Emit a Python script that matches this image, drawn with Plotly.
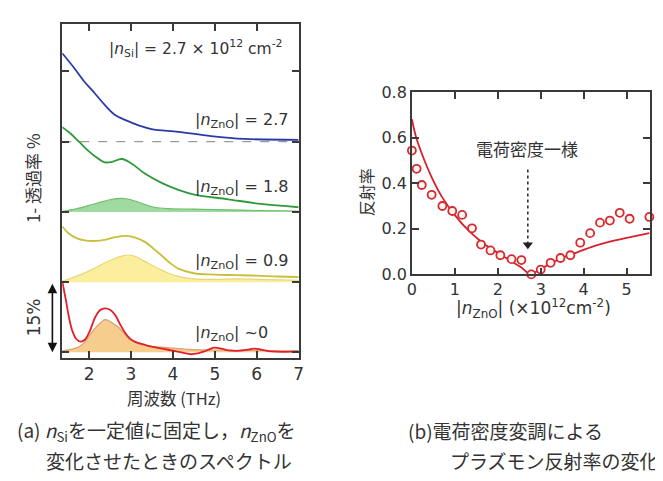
import plotly.graph_objects as go

W, H = 663, 481

# ---------------- data: panel (a) ----------------
freq_blue = [1.36, 1.64, 1.88, 2.14, 2.38, 2.62, 2.90, 3.18, 3.49, 4.13, 4.91, 5.70, 7.0]
val_blue = [63.9, 60.8, 57.9, 55.3, 52.8, 50.7, 49.5, 48.5, 47.7, 47.1, 46.2, 45.6, 45.4]

freq_green = [1.36, 1.55, 1.76, 1.95, 2.14, 2.38, 2.55, 2.78, 3.02, 3.33, 3.73, 4.13, 4.51, 5.32, 6.10, 7.0]
val_green = [48.1, 46.8, 45.0, 43.3, 41.9, 40.6, 40.7, 41.3, 40.3, 38.2, 36.2, 34.7, 33.7, 32.7, 31.7, 31.0]
freq_green_fill = [1.36, 1.6, 1.76, 2.0, 2.2, 2.5, 2.78, 3.0, 3.3, 3.56, 3.9, 4.5, 5.0, 6.0, 7.0]
val_green_fill = [30.1, 30.5, 30.8, 31.4, 31.9, 32.6, 32.9, 32.6, 31.7, 31.0, 30.7, 30.6, 30.5, 30.3, 30.2]

freq_yellow = [1.36, 1.5, 1.7, 1.9, 2.14, 2.4, 2.62, 2.9, 3.1, 3.33, 3.53, 3.73, 3.93, 4.13, 4.5, 5.0, 5.5, 6.0, 6.5, 7.0]
val_yellow = [26.9, 25.5, 24.4, 23.9, 23.8, 24.1, 24.6, 24.9, 24.5, 23.6, 22.2, 20.7, 19.1, 17.9, 16.9, 16.6, 16.5, 16.4, 16.2, 16.1]
freq_yellow_fill = [1.36, 1.6, 1.8, 2.0, 2.2, 2.4, 2.6, 2.8, 2.95, 3.1, 3.3, 3.5, 3.7, 3.9, 4.1, 4.5, 5.0, 5.5, 6.0, 6.5, 7.0]
val_yellow_fill = [15.2, 15.9, 16.6, 17.4, 18.3, 19.2, 20.0, 20.6, 20.8, 20.5, 19.6, 18.6, 17.7, 16.9, 16.3, 15.7, 15.6, 15.7, 15.6, 15.5, 15.4]

freq_red = [1.36, 1.44, 1.52, 1.6, 1.7, 1.8, 1.9, 2.02, 2.14, 2.26, 2.38, 2.5, 2.62, 2.74, 2.85, 2.97, 3.09,
            3.3, 3.49, 3.75, 3.97, 4.2, 4.44, 4.6, 4.75, 4.88, 4.99, 5.15, 5.32, 5.5, 5.63, 5.8, 5.93, 6.1,
            6.34, 6.6, 7.0]
val_red = [15.2, 11.5, 7.5, 4.6, 2.8, 2.3, 2.7, 4.6, 7.4, 9.0, 9.4, 9.1, 8.0, 6.0, 4.3, 3.0, 2.3,
           1.7, 1.2, 0.8, 0.4, 0.0, -0.4, -0.2, 0.2, 0.7, 1.0, 0.8, 0.4, 0.3, 0.4, 0.6, 0.8, 0.6,
           0.2, 0.1, 0.2]
freq_red_fill = [1.36, 1.6, 1.76, 1.9, 2.0, 2.12, 2.24, 2.38, 2.5, 2.6, 2.71, 2.83, 2.95, 3.06, 3.18, 3.4,
                 3.7, 4.0, 4.5, 5.0, 6.0, 7.0]
val_red_fill = [0.3, 0.7, 1.2, 2.2, 3.5, 4.9, 6.0, 7.0, 6.6, 6.0, 5.3, 4.1, 2.9, 2.3, 1.8, 1.4,
                1.1, 0.9, 0.6, 0.5, 0.4, 0.3]

offsets = [45, 30, 15, 0]          # baselines (%) of the stacked spectra
freq_ticks = [2, 3, 4, 5, 6, 7]
pct_ticks = [0, 15, 30, 45, 60]

# ---------------- data: panel (b) ----------------
n_meas = [0.0, 0.11, 0.23, 0.46, 0.71, 0.94, 1.17, 1.40, 1.61, 1.83, 2.06, 2.32, 2.55, 2.78,
          3.0, 3.23, 3.46, 3.69, 3.92, 4.15, 4.38, 4.61, 4.84, 5.07, 5.53]
R_meas = [0.543, 0.463, 0.392, 0.349, 0.300, 0.278, 0.261, 0.202, 0.131, 0.105, 0.084, 0.067, 0.063, 0.0,
          0.021, 0.051, 0.072, 0.084, 0.139, 0.181, 0.227, 0.236, 0.270, 0.244, 0.252]
n_theory = [0.0, 0.1, 0.25, 0.45, 0.7, 1.0, 1.31, 1.56, 1.8, 2.06, 2.34, 2.55, 2.76, 3.1, 3.49, 3.85,
            4.24, 4.63, 5.0, 5.53]
R_theory = [0.68, 0.60, 0.52, 0.43, 0.34, 0.26, 0.194, 0.152, 0.118, 0.088, 0.055, 0.03, 0.003, 0.034,
            0.072, 0.097, 0.124, 0.145, 0.16, 0.181]
arrow_n = [2.7, 2.7]
arrow_R = [0.46, 0.13]
n_ticks = [0, 1, 2, 3, 4, 5]
R_ticks = [0.0, 0.2, 0.4, 0.6, 0.8]

# ---------------- figure ----------------
JP = "Noto Sans CJK JP"
TXT = "DejaVu Sans"
DARK = "#333333"
AX = "#3a3a3a"


def px(x, y):
    return x / W, 1 - y / H


fig = go.Figure()

# baseline helper traces + fills (panel a)
fills = [
    (freq_green_fill, val_green_fill, offsets[1], "rgba(130,205,130,0.75)", "#6cbf6c"),
    (freq_yellow_fill, val_yellow_fill, offsets[2], "rgba(250,236,140,0.85)", "#e6d77a"),
    (freq_red_fill, val_red_fill, offsets[3], "rgba(246,200,130,0.9)", "#d9a070"),
]
for fx, fy, base, fc, lc in fills:
    fig.add_trace(go.Scatter(x=[fx[0], fx[-1]], y=[base, base], mode="lines",
                             line=dict(width=0, color=fc), hoverinfo="skip", showlegend=False,
                             xaxis="x", yaxis="y"))
    fig.add_trace(go.Scatter(x=fx, y=fy, mode="lines", fill="tonexty", fillcolor=fc,
                             line=dict(color=lc, width=1.2, shape="spline"), showlegend=False,
                             xaxis="x", yaxis="y"))

# dashed reference line at the blue baseline
fig.add_trace(go.Scatter(x=[freq_blue[0], freq_blue[-1]], y=[offsets[0], offsets[0]], mode="lines",
                         line=dict(color="#9a9a9a", width=1.3, dash="dash"), showlegend=False,
                         xaxis="x", yaxis="y"))

curves = [
    (freq_blue, val_blue, "#2b3aa8"),
    (freq_green, val_green, "#2f9a3c"),
    (freq_yellow, val_yellow, "#c9bf3a"),
    (freq_red, val_red, "#e2202c"),
]
for cx, cy, col in curves:
    fig.add_trace(go.Scatter(x=cx, y=cy, mode="lines", line=dict(color=col, width=1.8, shape="spline"),
                             showlegend=False, xaxis="x", yaxis="y"))

# panel (b)
fig.add_trace(go.Scatter(x=n_theory, y=R_theory, mode="lines",
                         line=dict(color="#d8202c", width=1.8, shape="spline"),
                         showlegend=False, xaxis="x2", yaxis="y2", cliponaxis=False))
fig.add_trace(go.Scatter(x=n_meas, y=R_meas, mode="markers",
                         marker=dict(symbol="circle", size=8, color="#fff6ee",
                                     line=dict(color="#d42a34", width=1.8)),
                         showlegend=False, xaxis="x2", yaxis="y2", cliponaxis=False))
fig.add_trace(go.Scatter(x=arrow_n, y=arrow_R, mode="lines",
                         line=dict(color="#222222", width=1.5, dash="dot"),
                         showlegend=False, xaxis="x2", yaxis="y2"))
fig.add_trace(go.Scatter(x=[arrow_n[1]], y=[arrow_R[1]], mode="markers",
                         marker=dict(symbol="triangle-down", size=9, color="#222222"),
                         showlegend=False, xaxis="x2", yaxis="y2"))

axis_common = dict(showline=True, linecolor=AX, linewidth=1.6, mirror="ticks", ticks="inside",
                   ticklen=7, tickwidth=1.5, tickcolor=AX, showgrid=False, zeroline=False)

fig.update_layout(
    width=W, height=H, margin=dict(l=0, r=0, t=0, b=0),
    paper_bgcolor="white", plot_bgcolor="white",
    xaxis=dict(domain=[50 / W, 290 / W], range=[1.36, 7.0], tickvals=freq_ticks,
               tickfont=dict(family=TXT, size=17, color=DARK), anchor="y", **axis_common),
    yaxis=dict(domain=[1 - 355 / H, 1 - 7 / H], range=[-1.2, 70.2], tickvals=pct_ticks,
               showticklabels=False, anchor="x", **axis_common),
    xaxis2=dict(domain=[405 / W, 647 / W], range=[0, 5.55], tickvals=n_ticks,
                tickfont=dict(family=TXT, size=16, color=DARK), anchor="y2", **axis_common),
    yaxis2=dict(domain=[1 - 268 / H, 1 - 78 / H], range=[0, 0.8], tickvals=R_ticks, tickformat=".1f",
                tickfont=dict(family=TXT, size=16, color=DARK), anchor="x2", **axis_common),
    showlegend=False,
)

ann = []


def text(x, y, s, size, family=TXT, xanchor="center", angle=0, color=DARK):
    ax_, ay_ = px(x, y)
    ann.append(dict(x=ax_, y=ay_, xref="paper", yref="paper", text=s, showarrow=False,
                    xanchor=xanchor, yanchor="middle", textangle=angle, borderpad=0,
                    font=dict(family=family, size=size, color=color)))


text(96, 33, "|<i>n</i><sub>Si</sub>| = 2.7 × 10<sup>12</sup> cm<sup>-2</sup>", 15.5, xanchor="left")
text(184, 108, "|<i>n</i><sub>ZnO</sub>| = 2.7", 16, xanchor="left")
text(184, 177, "|<i>n</i><sub>ZnO</sub>| = 1.8", 16, xanchor="left")
text(184, 255, "|<i>n</i><sub>ZnO</sub>| = 0.9", 16, xanchor="left")
text(184, 330, "|<i>n</i><sub>ZnO</sub>| ~0", 16, xanchor="left")
text(20, 168, "1- 透過率 %", 17, family=JP, angle=-90)
text(21, 313, "15%", 17, angle=-90)
text(163, 397, "周波数 (THz)", 16.5, family=JP)

text(358, 183, "反射率", 16, family=JP, angle=-90)
text(522, 137, "電荷密度一様", 17, family=JP)
text(528, 303, "|<i>n</i><sub>ZnO</sub>| (×10<sup>12</sup>cm<sup>-2</sup>)", 17)

text(146, 431, "(a) <i>n</i><sub>Si</sub>を一定値に固定し，<i>n</i><sub>ZnO</sub>を", 19, family=JP)
text(158, 462, "変化させたときのスペクトル", 19, family=JP)
text(400, 431, "(b)電荷密度変調による", 19, family=JP, xanchor="left")
text(657, 462, "プラズモン反射率の変化", 19, family=JP, xanchor="right")

# 15% double arrow (span of one offset step)
x0, _ = px(40, 0)
ann.append(dict(x=x0, y=offsets[3], xref="paper", yref="y", ax=0, ay=offsets[2], axref="pixel", ayref="y",
                text="", showarrow=True, arrowhead=2, startarrowhead=2, arrowside="end+start",
                arrowwidth=1.6, arrowsize=1.2, startarrowsize=1.2, arrowcolor="#111111"))

fig.update_layout(annotations=ann)
fig.write_html("out.html")
